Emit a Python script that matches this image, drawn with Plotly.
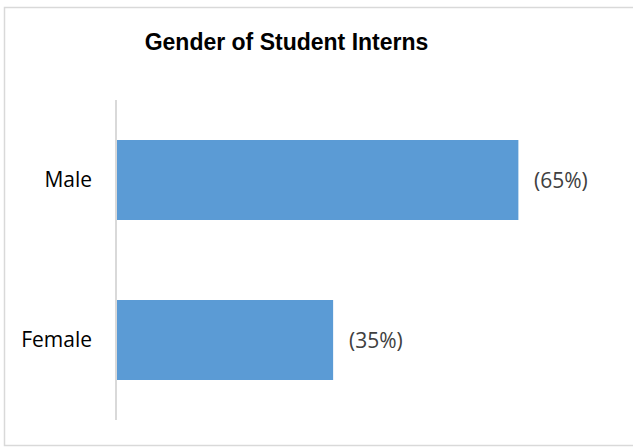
import plotly.graph_objects as go

categories = ["Male", "Female"]
values = [65, 35]
value_labels = ["(65%)", "(35%)"]
title_text = "Gender of Student Interns"

W, H = 633, 447
ml, mr, mt, mb = 117, 22, 100, 27
x_max = 80

fig = go.Figure()
fig.add_trace(go.Bar(
    x=values, y=categories, orientation="h",
    marker=dict(color="#5B9BD5", line=dict(width=0)),
    hoverinfo="skip",
))

for c, v, t in zip(categories, values, value_labels):
    fig.add_annotation(x=v, y=c, text=t, showarrow=False, xanchor="left",
                       xshift=14, yshift=0,
                       font=dict(family="Open Sans", size=21, color="#404040"))

pw = W - ml - mr
ph = H - mt - mb
def px_x(p):
    return (p - ml) / pw
def px_y(p):
    return (H - mb - p) / ph

fig.add_shape(type="rect", xref="paper", yref="paper",
              x0=px_x(4.5), x1=px_x(640), y0=px_y(445.5), y1=px_y(7.5),
              line=dict(color="#D9D9D9", width=1.5), fillcolor="rgba(0,0,0,0)")

fig.update_layout(
    width=W, height=H,
    margin=dict(l=ml, r=mr, t=mt, b=mb),
    paper_bgcolor="white", plot_bgcolor="white",
    bargap=0.5,
    showlegend=False,
    title=dict(text="<b>" + title_text + "</b>", x=286.5 / W, xref="container",
               xanchor="center", y=1 - 42 / H, yanchor="middle",
               font=dict(family="Liberation Sans", size=23, color="black")),
    xaxis=dict(range=[0, x_max], visible=False, showgrid=False, zeroline=False, fixedrange=True),
    yaxis=dict(autorange="reversed", showgrid=False, zeroline=False,
               showline=True, linecolor="#D9D9D9", linewidth=1.5,
               ticks="", ticklabelstandoff=19,
               tickfont=dict(family="Open Sans", size=21, color="black")),
)

fig.write_html("out.html")
